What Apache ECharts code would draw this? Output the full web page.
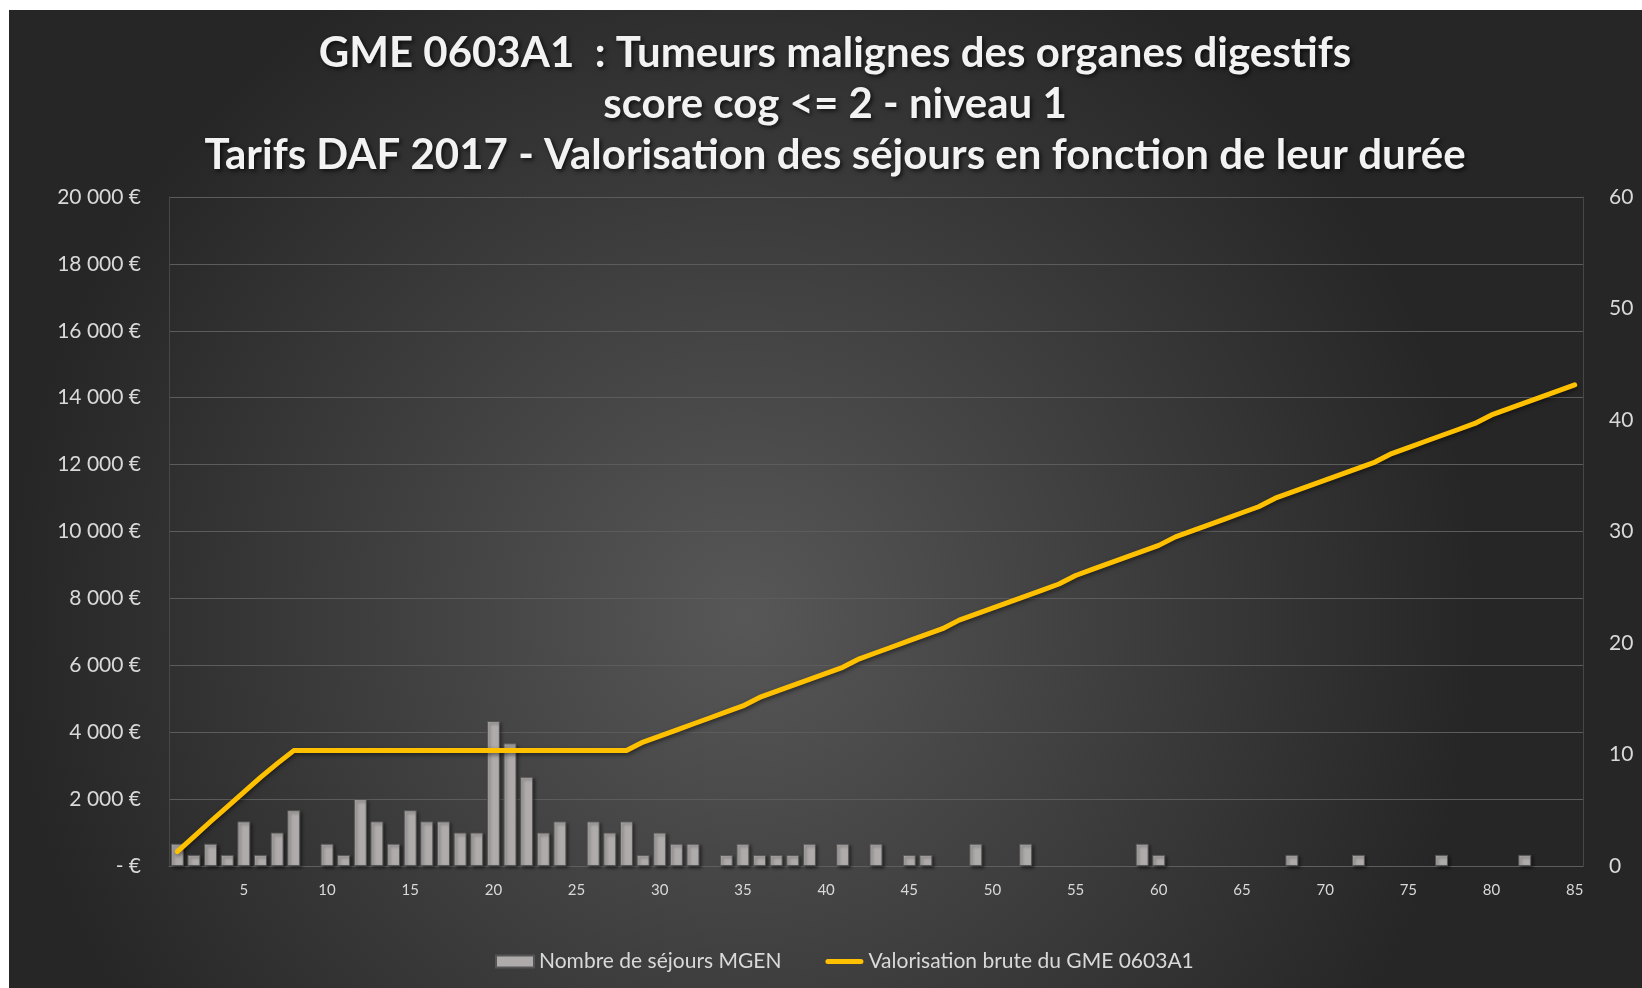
<!DOCTYPE html>
<html>
<head>
<meta charset="utf-8">
<script src="https://cdn.jsdelivr.net/npm/echarts@6/dist/echarts.min.js"></script>
<style>
  html, body { margin: 0; padding: 0; background: #ffffff; }
  #chart { position: absolute; left: 9px; top: 10px; width: 1633px; height: 978px; }
</style>
</head>
<body>
<div id="chart"></div>
<script>
// durée du séjour (jours)
var jours = [1, 2, 3, 4, 5, 6, 7, 8, 9, 10, 11, 12, 13, 14, 15, 16, 17, 18, 19, 20,
  21, 22, 23, 24, 25, 26, 27, 28, 29, 30, 31, 32, 33, 34, 35, 36, 37, 38, 39, 40,
  41, 42, 43, 44, 45, 46, 47, 48, 49, 50, 51, 52, 53, 54, 55, 56, 57, 58, 59, 60,
  61, 62, 63, 64, 65, 66, 67, 68, 69, 70, 71, 72, 73, 74, 75, 76, 77, 78, 79, 80,
  81, 82, 83, 84, 85];

// nombre de séjours MGEN (axe droit)
var sejours = [2, 1, 2, 1, 4, 1, 3, 5, 0, 2, 1, 6, 4, 2, 5, 4, 4, 3, 3, 13,
  11, 8, 3, 4, 0, 4, 3, 4, 1, 3, 2, 2, 0, 1, 2, 1, 1, 1, 2, 0,
  2, 0, 2, 0, 1, 1, 0, 0, 2, 0, 0, 2, 0, 0, 0, 0, 0, 0, 2, 1,
  0, 0, 0, 0, 0, 0, 0, 1, 0, 0, 0, 1, 0, 0, 0, 0, 1, 0, 0, 0,
  0, 1, 0, 0, 0];

// valorisation brute du GME (axe gauche, €)
var valorisation = [430, 880, 1330, 1770, 2210, 2650, 3060, 3450, 3450, 3450,
  3450, 3450, 3450, 3450, 3450, 3450, 3450, 3450, 3450, 3450,
  3450, 3450, 3450, 3450, 3450, 3450, 3450, 3450, 3705, 3885,
  4065, 4245, 4425, 4605, 4785, 5040, 5220, 5400, 5580, 5760,
  5940, 6195, 6375, 6555, 6735, 6915, 7095, 7350, 7530, 7710,
  7890, 8070, 8250, 8430, 8685, 8865, 9045, 9225, 9405, 9585,
  9840, 10020, 10200, 10380, 10560, 10740, 10995, 11175, 11355, 11535,
  11715, 11895, 12075, 12330, 12510, 12690, 12870, 13050, 13230, 13485,
  13665, 13845, 14025, 14205, 14385];

var titre = [
  'GME 0603A1  : Tumeurs malignes des organes digestifs',
  'score cog <= 2 - niveau 1',
  'Tarifs DAF 2017 - Valorisation des séjours en fonction de leur durée'
];

function renderChart(chartID) {
  var chartDom = document.getElementById(chartID);
  var myChart = echarts.init(chartDom);
  var labelColor = '#d9d9d9';
  var font = 'Lato, "Open Sans", sans-serif';

  var option = {
    backgroundColor: {
      type: 'radial', x: 0.45, y: 0.62, r: 0.75,
      colorStops: [
        { offset: 0, color: '#575757' },
        { offset: 1, color: '#262626' }
      ]
    },
    textStyle: { fontFamily: font },
    title: {
      text: titre.join('\n'),
      left: 826,
      textAlign: 'center',
      top: 18,
      padding: 0,
      textStyle: {
        color: '#f2f2f2',
        fontFamily: font,
        fontWeight: 'bold',
        fontSize: 42,
        lineHeight: 51,
        textShadowColor: 'rgba(0,0,0,0.7)',
        textShadowBlur: 4,
        textShadowOffsetX: 2,
        textShadowOffsetY: 2
      }
    },
    legend: {
      bottom: 11,
      left: 481,
      itemWidth: 38,
      itemHeight: 12,
      itemGap: 44,
      textStyle: { color: labelColor, fontSize: 21, fontFamily: font },
      data: [
        { name: 'Nombre de séjours MGEN', icon: 'rect' },
        { name: 'Valorisation brute du GME 0603A1', icon: 'path://M2.5,0 L35.5,0 A2.5,2.5 0 0 1 35.5,5 L2.5,5 A2.5,2.5 0 0 1 2.5,0 Z' }
      ]
    },
    grid: { left: 160, right: 59, top: 187, bottom: 122 },
    xAxis: {
      type: 'category',
      data: jours,
      axisLine: { show: true, lineStyle: { color: '#5e5e5e', width: 1 } },
      axisTick: { show: false },
      axisLabel: {
        color: labelColor,
        fontSize: 15,
        margin: 17,
        interval: function (idx, val) { return Number(val) % 5 === 0; }
      },
      splitLine: { show: false }
    },
    yAxis: [
      {
        type: 'value',
        min: 0,
        max: 20000,
        interval: 2000,
        axisLine: { show: true, lineStyle: { color: '#474747' } },
        axisTick: { show: false },
        axisLabel: {
          color: labelColor,
          fontSize: 21,
          margin: 28,
          formatter: function (v) {
            if (v === 0) return '- €';
            return String(v).replace(/\B(?=(\d{3})+(?!\d))/g, ' ') + ' €';
          }
        },
        splitLine: { lineStyle: { color: '#5c5c5c', width: 1 } }
      },
      {
        type: 'value',
        min: 0,
        max: 60,
        interval: 10,
        position: 'right',
        axisLine: { show: true, lineStyle: { color: '#474747' } },
        axisTick: { show: false },
        axisLabel: { color: labelColor, fontSize: 21, margin: 26 },
        splitLine: { show: false }
      }
    ],
    series: [
      {
        name: 'Nombre de séjours MGEN',
        type: 'bar',
        yAxisIndex: 1,
        barCategoryGap: '22%',
        data: sejours.map(function (v) { return v === 0 ? '-' : v; }),
        itemStyle: {
          color: '#afabab',
          borderColor: '#555555',
          borderWidth: 1,
          shadowColor: 'rgba(0,0,0,0.45)',
          shadowBlur: 3,
          shadowOffsetX: 2,
          shadowOffsetY: 2
        }
      },
      {
        name: 'Valorisation brute du GME 0603A1',
        type: 'line',
        yAxisIndex: 0,
        data: valorisation,
        showSymbol: false,
        symbol: 'none',
        lineStyle: {
          color: '#ffc000',
          width: 5,
          cap: 'round',
          join: 'round',
          shadowColor: 'rgba(0,0,0,0.5)',
          shadowBlur: 4,
          shadowOffsetX: 1,
          shadowOffsetY: 2
        },
        itemStyle: { color: '#ffc000' }
      }
    ]
  };

  option && myChart.setOption(option);
}

renderChart('chart');
</script>
</body>
</html>
